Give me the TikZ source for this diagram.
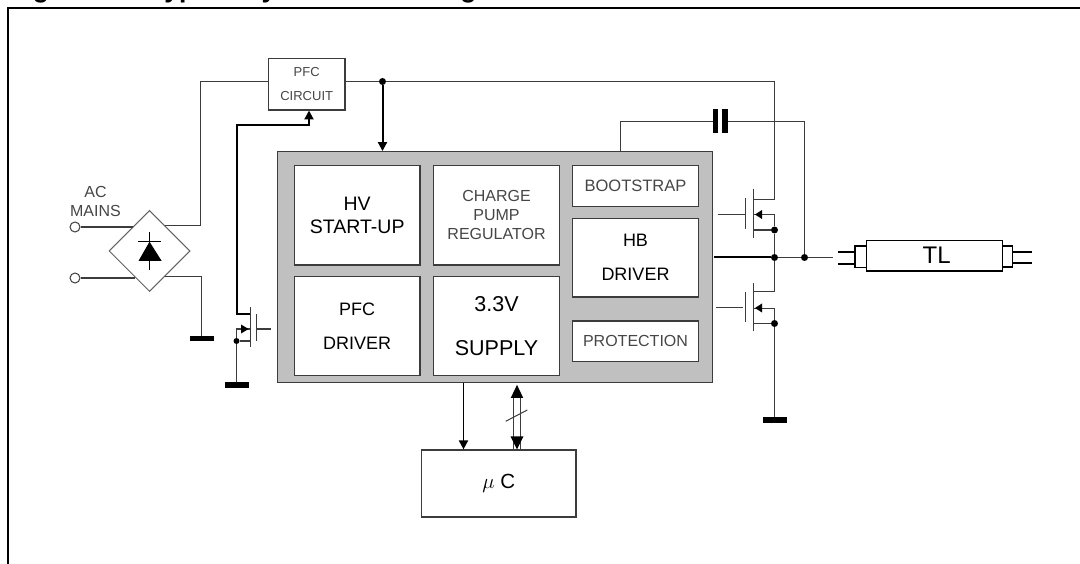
\documentclass[tikz,border=0pt]{standalone}
\usepackage{tikz}
\usepackage{xcolor}
\usepackage{fontspec}
\setmainfont{Liberation Sans}
\usetikzlibrary{arrows.meta,shapes.geometric}
\definecolor{wiregray}{RGB}{60,60,60}
\definecolor{icgray}{RGB}{192,192,192}
\definecolor{textgray}{RGB}{70,70,70}
\tikzset{
    wire/.style={draw=wiregray, line width=1.2pt},
    heavy/.style={draw=black, line width=2pt},
    arrowhd/.style={-{Triangle[length=9pt,width=9pt]}},
    block/.style={rectangle, draw=wiregray, fill=white, line width=1.2pt, inner sep=0pt, align=center},
    bigtext/.style={font=\fontsize{18}{23}\selectfont},
    smalltext/.style={font=\fontsize{16}{19}\selectfont, text=textgray},
    junction/.style={circle, fill=black, inner sep=0pt, minimum size=7pt},
    terminal/.style={circle, draw=wiregray, fill=white, line width=1pt, inner sep=0pt, minimum size=10pt},
    gndbar/.style={rectangle, fill=black, inner sep=0pt, minimum width=24pt, minimum height=5.5pt},
    capplate/.style={rectangle, fill=black, inner sep=0pt, minimum width=5.5pt, minimum height=24pt},
    lamp/.style={rectangle, draw=black, fill=white, line width=1.5pt, inner sep=0pt}
}

\begin{document}
\begin{tikzpicture}[x=1pt, y=-1pt]
    \useasboundingbox (0,0) rectangle (1080,564);
    \clip (0,0) rectangle (1080,564);

    \node[anchor=base west, inner sep=0pt, font=\bfseries\fontsize{26.5}{30}\selectfont] (figno) at (9,-2.5) {Figure 1.};
    \node[anchor=base west, inner sep=0pt, font=\bfseries\fontsize{26.5}{30}\selectfont] (figtitle) at (150,-2.5) {Typical system block diagram};
    \draw[line width=2pt] (8.2,564) -- (8.2,8) -- (1080,8);

    \node[rectangle, draw=wiregray, fill=icgray, line width=1.3pt, minimum width=435pt, minimum height=231pt] (ic) at (494.8,267.2) {};
    \node[block, bigtext, font=\fontsize{19.5}{23}\selectfont, minimum width=125.7pt, minimum height=99.3pt] (hv) at (357.2,215.3) {HV\\START-UP};
    \node[block, bigtext, minimum width=125.7pt, minimum height=98.6pt] (pfcdrv) at (357.2,326) {PFC\\[11pt]DRIVER};
    \node[block, smalltext, minimum width=125.7pt, minimum height=99.3pt] (pump) at (496.5,215.3) {CHARGE\\PUMP\\REGULATOR};
    \node[block, bigtext, font=\fontsize{21.5}{23}\selectfont, minimum width=125.7pt, minimum height=98.6pt] (supply) at (496.5,326) {3.3V\\[21pt]SUPPLY};
    \node[block, smalltext, font=\fontsize{16.5}{19}\selectfont, minimum width=125.7pt, minimum height=41pt] (boot) at (635.5,186.2) {BOOTSTRAP};
    \node[block, bigtext, minimum width=125.7pt, minimum height=78.3pt] (hb) at (635.5,257.8) {HB\\[11pt]DRIVER};
    \node[block, smalltext, minimum width=125.7pt, minimum height=40.3pt] (prot) at (635.5,341.2) {PROTECTION};

    \node[block, font=\fontsize{13}{24}\selectfont, text=textgray, minimum width=76.5pt, minimum height=51.3pt] (pfc) at (306.7,84.3) {PFC\\CIRCUIT};
    \node[block, font=\fontsize{20.5}{24}\selectfont, minimum width=154.3pt, minimum height=67pt] (uc) at (498.8,483.5) {$\mu$ C};

    \node[diamond, draw=wiregray!80, fill=white, line width=1pt, aspect=1, inner sep=0pt, minimum width=81pt, minimum height=81pt] (bridge) at (149.5,251) {};
    \node[terminal] (acup) at (75,227) {};
    \node[terminal] (aclow) at (75,278) {};
    \node[font=\fontsize{16}{19}\selectfont, text=textgray, align=center, inner sep=0pt] (mains) at (95.5,201) {AC\\MAINS};
    \draw[line width=1.1pt, draw=black] (149.5,231.7) -- (149.5,270);
    \draw[line width=1.1pt, draw=black] (138,241.7) -- (160.5,241.7);
    \fill (149.5,241.7) -- (161.7,261) -- (138.5,261) -- cycle;

    \node[junction] (jtop) at (382.5,81.5) {};
    \node[junction] (jhs) at (774.5,230) {};
    \node[junction] (jhb) at (774.5,257.5) {};
    \node[junction] (jtl) at (804.5,257.5) {};
    \node[junction] (jls) at (774.5,323.5) {};
    \node[junction, minimum size=6pt] (jpfc) at (236.5,341) {};

    \node[gndbar] (gndbr) at (201.5,338.5) {};
    \node[gndbar] (gndpfc) at (236.5,385) {};
    \node[gndbar] (gndhb) at (774.5,420) {};
    \node[capplate] (capa) at (715.7,121.5) {};
    \node[capplate] (capb) at (725,121.5) {};

    \coordinate (wa) at (200.5,81.5);
    \coordinate (wb) at (201.5,275.5);
    \coordinate (rail) at (774.5,81.5);
    \coordinate (qd) at (250.5,314.5);
    \coordinate (qbend) at (236.5,125);
    \coordinate (pfcfb) at (309,110.5);
    \coordinate (hsd) at (753.5,199.5);
    \coordinate (lsd) at (753.5,291.5);
    \coordinate (bsbase) at (620.5,151.7);
    \coordinate (lampin) at (833,257.5);
    \coordinate (drv) at (714,257.5);
    \coordinate (ctl) at (463.5,0);
    \coordinate (busa) at (513.5,0);
    \coordinate (busb) at (520.5,0);
    \coordinate (bus) at (517,0);

    \draw[wire] (acup) -- (acup -| bridge.124);
    \draw[wire] (aclow) -- (aclow -| bridge.242);
    \draw[wire] (wa -| pfc.west) -- (wa) |- (bridge.59);
    \draw[wire] (bridge.302) -- (bridge.302 -| wb) -- (gndbr.north);
    \draw[wire] (jtop -| pfc.east) -- (jtop) -- (rail) |- (hsd);
    \draw[heavy, arrowhd] (jtop) -- (jtop |- ic.north);
    \draw[heavy, arrowhd] (qd) -| (qbend) -| (pfcfb);
    \draw[wire] (bsbase) |- (capa);
    \draw[wire] (capb) -| (jtl);
    \draw[heavy] (drv) -- (jhb);
    \draw[wire] (jhb) -- (jtl) -- (lampin);
    \draw[wire] (jhs) -- (jhb);
    \draw[wire] (jhb) |- (lsd);
    \draw[wire] (jls) -- (gndhb.north);
    \draw[wire] (jpfc) -- (gndpfc.north);
    \draw[heavy, line width=1.8pt, arrowhd] (ctl |- ic.south) -- (ctl |- uc.north);
    \draw[wire, line width=1.3pt] (busa |- ic.south) ++(0,12) -- (busa |- uc.north);
    \draw[wire, line width=1.3pt] (busb |- ic.south) ++(0,12) -- (busb |- uc.north);
    \fill (bus |- ic.south) ++(0,1.5) -- ++(6.2,13) -- ++(-12.4,0) -- cycle;
    \fill (bus |- uc.north) -- ++(6.5,-13) -- ++(-13,0) -- cycle;
    \draw[wire, line width=1pt] (505.7,421.3) -- (527.3,410);

    \draw[wire] (250.5,307) -- (250.5,347);
    \draw[wire] (256.5,314) -- (256.5,340.7);
    \draw[wire] (257,329) -- (270.7,329);
    \draw[wire] (250.5,341) -- (jpfc);
    \draw[wire] (250.5,329) -- (236.5,329) -- (jpfc);
    \fill (248.5,329) -- (241,324.5) -- (241,333.5) -- cycle;

    \draw[wire] (753.5,189) -- (753.5,237.7);
    \draw[wire] (745.5,198.3) -- (745.5,229);
    \draw[wire] (717.7,214.5) -- (745,214.5);
    \draw[wire] (753.5,214.5) -- (774.5,214.5) -- (jhs);
    \draw[wire] (753.5,230) -- (jhs);
    \fill (755,214.5) -- (762,210) -- (762,219) -- cycle;

    \draw[wire] (753.5,282.7) -- (753.5,331.3);
    \draw[wire] (745.5,291.7) -- (745.5,322.3);
    \draw[wire] (715.7,307.5) -- (742.7,307.5);
    \draw[wire] (753.5,308.5) -- (774.5,308.5) -- (jls);
    \draw[wire] (753.5,323.5) -- (jls);
    \fill (755,308) -- (762,303.5) -- (762,312.5) -- cycle;

    \draw[wire, draw=black] (838.3,252) -- (856.7,252);
    \draw[wire, draw=black] (838.3,264) -- (856.7,264);
    \draw[wire, draw=black] (1012,252) -- (1032,252);
    \draw[wire, draw=black] (1012,263) -- (1032,263);
    \node[lamp, minimum width=11.7pt, minimum height=21.7pt] (capl) at (860.8,256.8) {};
    \node[lamp, minimum width=9.6pt, minimum height=21pt] (capr) at (1007.5,256.5) {};
    \node[lamp, font=\fontsize{24}{26}\selectfont, minimum width=136pt, minimum height=30.7pt] (tube) at (934.7,255.7) {\hspace{4pt}TL};
\end{tikzpicture}
\end{document}
